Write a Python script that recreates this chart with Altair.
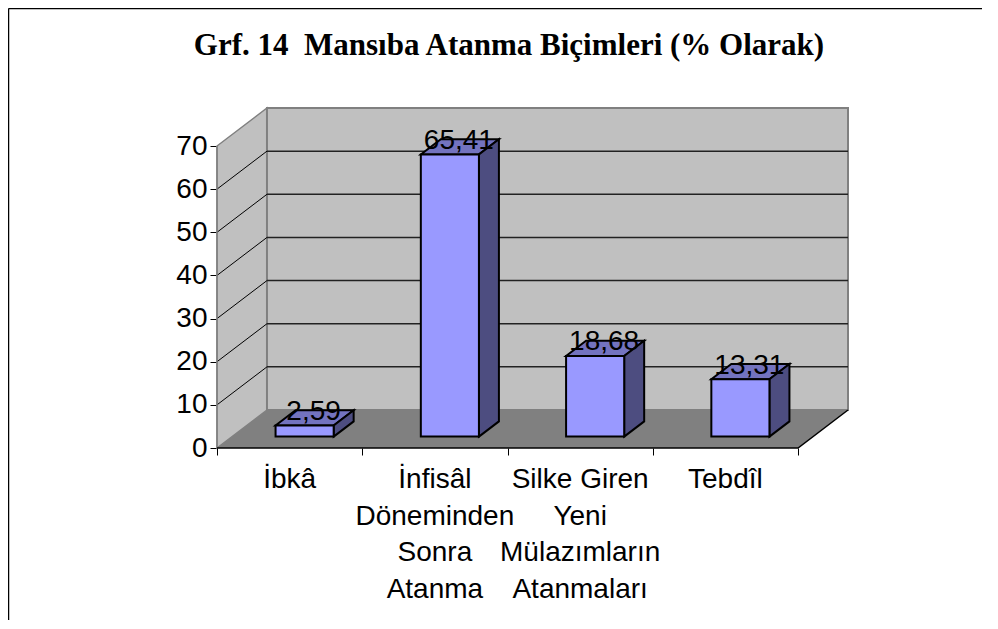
import altair as alt
import pandas as pd

# ---- values ----
categories = ["İbkâ", "İnfisâl\nDöneminden\nSonra\nAtanma", "Silke Giren\nYeni\nMülazımların\nAtanmaları", "Tebdîl"]
values = [2.59, 65.41, 18.68, 13.31]
value_labels = ["2,59", "65,41", "18,68", "13,31"]
y_ticks = [0, 10, 20, 30, 40, 50, 60, 70]
x_ticks = [0, 1, 2, 3, 4]
title_text = "Grf. 14\u00a0 Mansıba Atanma Biçimleri (% Olarak)"

# ---- oblique projection of the 3D box, in data units ----
Y_MAX = 70
DX = 0.344    # category units a full depth step moves right
DY = 8.81     # value units a full depth step moves up
N = len(categories)
BAR_HALF = 0.2
D0, D1 = 0.3, 0.7
X_DOM = [0, N + DX]
Y_DOM = [0, Y_MAX + DY]
FONT = "Liberation Sans"

x_scale = alt.Scale(domain=X_DOM, nice=False, zero=False)
y_scale = alt.Scale(domain=Y_DOM, nice=False, zero=False)
x_axis = alt.Axis(values=x_ticks, labels=False, title=None, domain=False, grid=False,
                  tickSize=7, tickColor="black", tickWidth=1)
y_axis = alt.Axis(values=y_ticks, title=None, domain=False, grid=False,
                  tickSize=7, tickColor="black", tickWidth=1,
                  labelFont=FONT, labelFontSize=28, labelColor="black", labelPadding=3)
X = alt.X("x:Q", scale=x_scale, axis=x_axis)
Y = alt.Y("y:Q", scale=y_scale, axis=y_axis, stack=None)
Y2 = alt.Y2("y2:Q")


def area(rows, fill, stroke=None, width=1.0):
    kw = {"fill": fill, "opacity": 1, "clip": False}
    if stroke:
        kw.update(stroke=stroke, strokeWidth=width, strokeJoin="miter")
    return alt.Chart(pd.DataFrame(rows)).mark_area(**kw).encode(X, Y, Y2, detail="id:N")


def lines(rows, color, width):
    return alt.Chart(pd.DataFrame(rows)).mark_line(color=color, strokeWidth=width).encode(
        X, Y, detail="id:N")


# walls and floor
left_wall = [dict(id=0, x=0, y=0, y2=Y_MAX), dict(id=0, x=DX, y=DY, y2=Y_MAX + DY)]
back_wall = [dict(id=0, x=DX, y=DY, y2=Y_MAX + DY), dict(id=0, x=N + DX, y=DY, y2=Y_MAX + DY)]
floor = [dict(id=0, x=0, y=0, y2=0), dict(id=0, x=DX, y=0, y2=DY),
         dict(id=0, x=N, y=0, y2=DY), dict(id=0, x=N + DX, y=DY, y2=DY)]

grid_rows = []
for t in y_ticks[1:-1]:
    grid_rows += [dict(id=f"b{t}", x=DX, y=t + DY), dict(id=f"b{t}", x=N + DX, y=t + DY)]
slant_rows = []
for t in y_ticks[1:-1]:
    slant_rows += [dict(id=f"s{t}", x=0, y=t), dict(id=f"s{t}", x=DX, y=t + DY)]
front_rows = [dict(id="f", x=0, y=0), dict(id="f", x=N, y=0), dict(id="f", x=N + DX, y=DY)]
axis_rows = [dict(id="a", x=0, y=0), dict(id="a", x=0, y=Y_MAX)]

# bar faces
front, side, top, label_rows, cat_rows = [], [], [], [], []
for i, v in enumerate(values):
    cx = i + 0.5
    x0 = cx - BAR_HALF + D0 * DX
    x1 = cx + BAR_HALF + D0 * DX
    b = D0 * DY
    dx = (D1 - D0) * DX
    dy = (D1 - D0) * DY
    t = b + v
    front += [dict(id=i, x=x0, y=b, y2=t), dict(id=i, x=x1, y=b, y2=t)]
    side += [dict(id=i, x=x1, y=b, y2=t), dict(id=i, x=x1 + dx, y=b + dy, y2=t + dy)]
    top += [dict(id=i, x=x0, y=t, y2=t), dict(id=i, x=x0 + dx, y=t, y2=t + dy),
            dict(id=i, x=x1, y=t, y2=t + dy), dict(id=i, x=x1 + dx, y=t + dy, y2=t + dy)]
    label_rows.append(dict(x=cx + 0.5 * DX, y=0.5 * DY + v, t=value_labels[i]))
    cat_rows.append(dict(x=cx, y=0, t=categories[i]))

value_text = alt.Chart(pd.DataFrame(label_rows)).mark_text(
    font=FONT, fontSize=28, color="black", baseline="alphabetic", dy=2, dx=-1
).encode(X, Y, text="t:N")

cat_text = alt.Chart(pd.DataFrame(cat_rows)).mark_text(
    font=FONT, fontSize=28, color="black", baseline="top", lineBreak="\n", lineHeight=36.5, dy=18
).encode(X, Y, text="t:N")

one = pd.DataFrame({"t": [title_text]})
title_mark = alt.Chart(one).mark_text(
    font="Liberation Serif", fontSize=31, fontWeight="bold", color="black", baseline="alphabetic"
).encode(x=alt.value(292), y=alt.value(-53), text="t:N")
frame_left = alt.Chart(one).mark_rule(color="black", strokeWidth=1.5).encode(
    x=alt.value(-208.5), y=alt.value(-99.5), y2=alt.value(512))
frame_top = alt.Chart(one).mark_rule(color="black", strokeWidth=1.5).encode(
    x=alt.value(-208.5), x2=alt.value(765), y=alt.value(-99.5))

chart = alt.layer(
    area(left_wall, "#C0C0C0", "#808080", 1.5),
    area(back_wall, "#C0C0C0", "#808080", 2),
    area(floor, "#808080"),
    lines(grid_rows, "#222222", 1.5),
    lines(slant_rows, "#000000", 1),
    lines(axis_rows, "#808080", 1.5),
    lines(front_rows, "#000000", 1.5),
    area(top, "#7373BF", "#000000", 2),
    area(side, "#4D4D80", "#000000", 2),
    area(front, "#9999FF", "#000000", 2),
    value_text,
    cat_text,
    title_mark,
    frame_left,
    frame_top,
).properties(
    width=631,
    height=340,
    padding={"left": 209, "top": 100, "right": 142, "bottom": 172},
    autosize=alt.AutoSizeParams(type="none"),
).configure_view(stroke=None)

chart.save("out.html", embed_options={"renderer": "svg", "actions": False})
